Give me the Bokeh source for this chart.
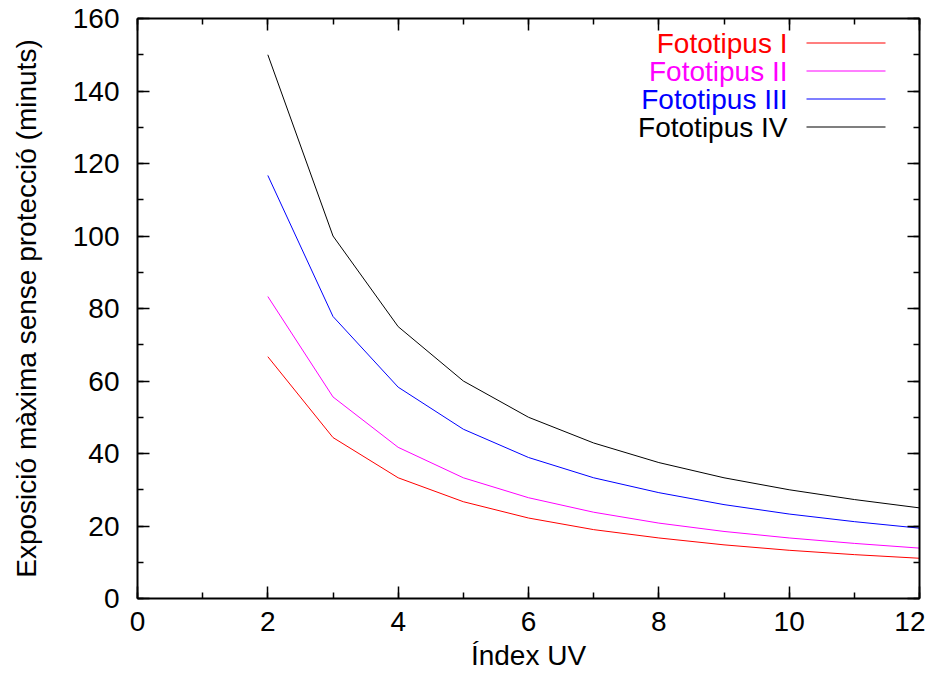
from bokeh.plotting import figure
from bokeh.models import Range1d, LinearAxis, Label, FixedTicker, Arrow
from bokeh.embed import file_html
from bokeh.resources import INLINE

uv_index = [2, 3, 4, 5, 6, 7, 8, 9, 10, 11, 12]
fototipus_1 = [66.7, 44.4, 33.3, 26.7, 22.2, 19.0, 16.7, 14.8, 13.3, 12.1, 11.1]
fototipus_2 = [83.3, 55.6, 41.7, 33.3, 27.8, 23.8, 20.8, 18.5, 16.7, 15.2, 13.9]
fototipus_3 = [116.7, 77.8, 58.3, 46.7, 38.9, 33.3, 29.2, 25.9, 23.3, 21.2, 19.4]
fototipus_4 = [150.0, 100.0, 75.0, 60.0, 50.0, 42.9, 37.5, 33.3, 30.0, 27.3, 25.0]

series_names = ["Fototipus I", "Fototipus II", "Fototipus III", "Fototipus IV"]
series_values = [fototipus_1, fototipus_2, fototipus_3, fototipus_4]
series_colors = ["#ff0000", "#ff00ff", "#0000ff", "#000000"]

x_ticks = [0, 2, 4, 6, 8, 10, 12]
y_ticks = [0, 20, 40, 60, 80, 100, 120, 140, 160]

FONT = "Liberation Sans"
FS = "28px"

p = figure(width=925, height=673, output_backend="svg", toolbar_location=None,
           x_range=Range1d(0, 12), y_range=Range1d(0, 160),
           min_border_left=137, min_border_right=6, min_border_top=18, min_border_bottom=72,
           x_axis_label="Índex UV", y_axis_label="Exposició màxima sense protecció (minuts)")
p.xgrid.visible = False
p.ygrid.visible = False
p.outline_line_color = None
p.background_fill_color = "white"
p.border_fill_color = "white"

def style_axis(ax, ticks, minor, labels=True):
    ax.ticker = FixedTicker(ticks=ticks, minor_ticks=minor)
    ax.axis_line_width = 2
    ax.axis_line_color = "black"
    ax.major_tick_in = 12
    ax.major_tick_out = 0
    ax.minor_tick_in = 6
    ax.minor_tick_out = 0
    ax.major_tick_line_width = 1.5
    ax.minor_tick_line_width = 1.5
    ax.major_tick_line_color = "black"
    ax.minor_tick_line_color = "black"
    ax.major_label_text_font = FONT
    ax.major_label_text_font_size = FS
    ax.major_label_text_color = "black"
    ax.axis_label_text_font = FONT
    ax.axis_label_text_font_size = FS
    ax.axis_label_text_font_style = "normal"
    ax.axis_label_text_color = "black"
    if not labels:
        ax.major_label_text_alpha = 0
        ax.major_label_text_font_size = "1px"
        ax.major_label_standoff = 0

x_minor = list(range(0, 13))
y_minor = list(range(0, 161, 10))

style_axis(p.xaxis[0], x_ticks, x_minor)
style_axis(p.yaxis[0], y_ticks, y_minor)
p.xaxis[0].major_label_standoff = 13
p.xaxis[0].axis_label_standoff = 6
p.yaxis[0].major_label_standoff = 18
p.yaxis[0].axis_label_standoff = 28

top_ax = LinearAxis()
style_axis(top_ax, x_ticks, x_minor, labels=False)
p.add_layout(top_ax, "above")
right_ax = LinearAxis()
style_axis(right_ax, y_ticks, y_minor, labels=False)
p.add_layout(right_ax, "right")

for name, vals, col in zip(series_names, series_values, series_colors):
    p.line(uv_index, vals, line_color=col, line_width=1)

# Legend (gnuplot style: label on the left, sample line on the right)
for i, (name, col) in enumerate(zip(series_names, series_colors)):
    row_y = 555 - 28 * i
    p.add_layout(Label(x=650, y=row_y, x_units="screen", y_units="screen",
                       text=name, text_color=col, text_font=FONT, text_font_size=FS,
                       text_align="right", text_baseline="middle"))
    p.add_layout(Arrow(end=None, x_start=669, y_start=row_y + 0.5, x_end=748, y_end=row_y + 0.5,
                       start_units="screen", end_units="screen",
                       line_color=col, line_width=1.2))

open("out.html", "w").write(file_html(p, INLINE))
